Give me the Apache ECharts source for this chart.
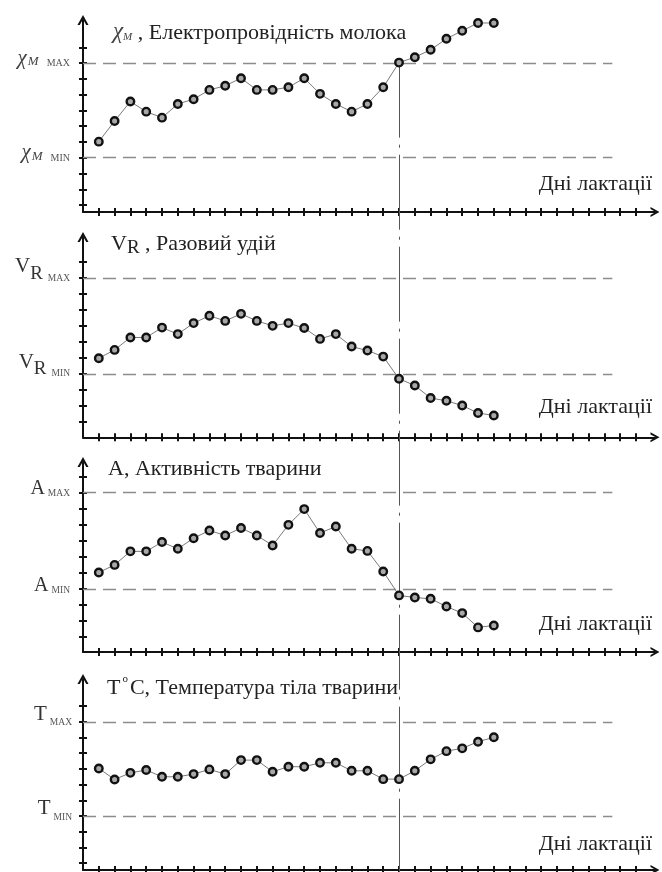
<!DOCTYPE html>
<html>
<head>
<meta charset="utf-8">
<script src="https://cdn.jsdelivr.net/npm/echarts@6/dist/echarts.min.js"></script>
<style>html,body{margin:0;padding:0;background:#fff}#c{width:662px;height:872px}</style>
</head>
<body>
<div id="c"></div>
<script>
// ---- data ----
const days = [1,2,3,4,5,6,7,8,9,10,11,12,13,14,15,16,17,18,19,20,21,22,23,24,25,26];
const dayTicks = [1,2,3,4,5,6,7,8,9,10,11,12,13,14,15,16,17,18,19,20,21,22,23,24,25,26,27,28,29,30,31,32,33,34,35];
const levelTicks = [0,1,2,3,4,5,6,7,8,9,10];
const levelMin = 3;
const levelMax = 9;
const changeDay = 20;
const limitEndDay = 33.5;

const conductivity = [4.02,5.33,6.56,5.92,5.54,6.41,6.71,7.30,7.56,8.04,7.30,7.30,7.47,8.04,7.05,6.41,5.92,6.41,7.47,9.03,9.37,9.84,10.54,11.05,11.54,11.54];
const milkYield   = [3.98,4.50,5.28,5.28,5.90,5.49,6.18,6.64,6.32,6.76,6.32,6.01,6.18,5.87,5.19,5.49,4.71,4.46,4.08,2.69,2.27,1.48,1.31,1.01,0.54,0.39];
const activity    = [4.02,4.49,5.33,5.33,5.91,5.49,6.15,6.63,6.32,6.78,6.32,5.70,6.98,7.96,6.47,6.88,5.49,5.36,4.08,2.59,2.46,2.38,1.90,1.49,0.60,0.72];
const temperature = [6.03,5.33,5.75,5.93,5.50,5.50,5.67,5.97,5.67,6.56,6.56,5.82,6.14,6.14,6.39,6.39,5.88,5.88,5.35,5.35,5.88,6.61,7.13,7.31,7.73,8.01];

const xAxisName = 'Дні лактації';
const titleTexts = [
  '{g|χ}{s|M}{t| , Електропровідність молока}',
  '{g|V}{s|R}{t| , Разовий удій}',
  '{t|A, Активність тварини}',
  '{t|T}{o|o}{t|C, Температура тіла тварини}'
];
const maxLabels = ['{g|χ}{s|M}{c|MAX}', '{g|V}{s|R}{c|MAX}', '{g|A}{c|MAX}', '{g|T}{c|MAX}'];
const minLabels = ['{g|χ}{s|M}{c|MIN}', '{g|V}{s|R}{c|MIN}', '{g|A}{c|MIN}', '{g|T}{c|MIN}'];
const seriesValues = [conductivity, milkYield, activity, temperature];

// ---- layout / style ----
const FONT = "'Liberation Serif', 'Times New Roman', serif";
const INK = '#111';
const ARROW = 'path://M5,0L10,9L7.9,9L5,3.8L2.1,9L0,9Z';
const panels = [
  {top: 20,  height: 192,   min: -0.44, max: 11.73, titleLeft: 113, titleTop: 18,  nameTop: 171, labelPad: 9},
  {top: 237, height: 200.3, min: -0.98, max: 11.58, titleLeft: 111, titleTop: 232, nameTop: 394, labelPad: 11},
  {top: 462, height: 190,   min: -0.93, max: 10.89, titleLeft: 108, titleTop: 454, nameTop: 611, labelPad: 7},
  {top: 679, height: 191,   min: -0.43, max: 11.72, titleLeft: 107, titleTop: 673, nameTop: 831, labelPad: 9}
];
const labelRich = [
  {
    g: {fontFamily: FONT, fontStyle: 'italic', fontSize: 21, lineHeight: 20, color: '#444', verticalAlign: 'bottom'},
    s: {fontFamily: FONT, fontStyle: 'italic', fontSize: 13, lineHeight: 13, color: '#444', verticalAlign: 'bottom', padding: [0, 0, 0, 1]},
    c: {fontFamily: FONT, fontSize: 10, lineHeight: 10, color: '#555', verticalAlign: 'bottom', padding: [0, 0, 0, 8]}
  },
  {
    g: {fontFamily: FONT, fontSize: 21, lineHeight: 21, color: '#333', verticalAlign: 'bottom', padding: [0, 0, 6, 0]},
    s: {fontFamily: FONT, fontSize: 19, lineHeight: 19, color: '#333', verticalAlign: 'bottom'},
    c: {fontFamily: FONT, fontSize: 9.5, lineHeight: 10, color: '#555', verticalAlign: 'bottom', padding: [0, 0, 0, 5]}
  },
  {
    g: {fontFamily: FONT, fontSize: 20, lineHeight: 20, color: '#333', verticalAlign: 'bottom'},
    c: {fontFamily: FONT, fontSize: 9.5, lineHeight: 10, color: '#555', verticalAlign: 'bottom', padding: [0, 0, 0, 3]}
  },
  {
    g: {fontFamily: FONT, fontSize: 21, lineHeight: 21, color: '#333', verticalAlign: 'bottom', padding: [0, 0, 3, 0]},
    c: {fontFamily: FONT, fontSize: 9.5, lineHeight: 10, color: '#555', verticalAlign: 'bottom', padding: [0, 0, 0, 3]}
  }
];
const labelMargin = [13, 13, 13, 11];
const titleRich = {
  g: {fontFamily: FONT, fontSize: 22, lineHeight: 26, color: '#222', verticalAlign: 'bottom'},
  s: {fontFamily: FONT, fontSize: 12, lineHeight: 12, color: '#222', verticalAlign: 'bottom'},
  t: {fontFamily: FONT, fontSize: 22, lineHeight: 26, color: '#222', verticalAlign: 'bottom'},
  o: {fontFamily: FONT, fontSize: 11, lineHeight: 11, color: '#222', verticalAlign: 'bottom', padding: [0, 2, 14, 2]}
};
const titleRich2 = {
  g: {fontFamily: FONT, fontSize: 22, lineHeight: 26, color: '#222', verticalAlign: 'bottom', padding: [0, 0, 2.5, 0]},
  s: {fontFamily: FONT, fontSize: 19, lineHeight: 19, color: '#222', verticalAlign: 'bottom'},
  t: {fontFamily: FONT, fontSize: 22, lineHeight: 26, color: '#222', verticalAlign: 'bottom', padding: [0, 0, 2.5, 0]}
};
const titleRich1 = {
  g: {fontFamily: FONT, fontStyle: 'italic', fontSize: 23, lineHeight: 26, color: '#444', verticalAlign: 'bottom', padding: [0, 0, 1, 0]},
  s: {fontFamily: FONT, fontStyle: 'italic', fontSize: 11, lineHeight: 11, color: '#444', verticalAlign: 'bottom', padding: [0, 0, 1, 0]},
  t: {fontFamily: FONT, fontSize: 22, lineHeight: 26, color: '#222', verticalAlign: 'bottom'}
};

const grids = [], xAxes = [], yAxes = [], series = [], titles = [];
const axisLineStyle = {color: INK, width: 2};
const tickStyle = {color: INK, width: 2};

panels.forEach((p, i) => {
  grids.push({left: 83, width: 572, top: p.top, height: p.height, containLabel: false});
  const xBase = {
    gridIndex: i, type: 'value', min: 0, max: 36.2, position: 'bottom',
    axisLabel: {show: false}, splitLine: {show: false}
  };
  xAxes.push(Object.assign({}, xBase, {
    axisLine: {show: true, onZero: false, lineStyle: axisLineStyle, symbol: ['none', ARROW], symbolSize: [13, 9]},
    axisTick: {show: true, inside: false, length: 4, lineStyle: tickStyle, customValues: dayTicks}
  }));
  xAxes.push(Object.assign({}, xBase, {
    axisLine: {show: false, onZero: false},
    axisTick: {show: true, inside: true, length: 4, lineStyle: tickStyle, customValues: dayTicks}
  }));
  const yBase = {
    gridIndex: i, type: 'value', min: p.min, max: p.max, position: 'left', splitLine: {show: false}
  };
  yAxes.push(Object.assign({}, yBase, {
    axisLine: {show: true, onZero: false, lineStyle: axisLineStyle, symbol: ['none', ARROW], symbolSize: [12, 10]},
    axisTick: {show: true, inside: false, length: 4, lineStyle: tickStyle, customValues: levelTicks},
    axisLabel: {
      show: true, customValues: [levelMin, levelMax], margin: labelMargin[i],
      padding: [0, 0, p.labelPad, 0],
      formatter: v => (v === levelMax ? maxLabels[i] : minLabels[i]),
      rich: labelRich[i]
    }
  }));
  yAxes.push(Object.assign({}, yBase, {
    axisLine: {show: false, onZero: false},
    axisTick: {show: true, inside: true, length: 4, lineStyle: tickStyle, customValues: levelTicks},
    axisLabel: {show: false}
  }));
  series.push({
    type: 'line', xAxisIndex: 2 * i, yAxisIndex: 2 * i,
    data: days.map((d, k) => [d, seriesValues[i][k]]),
    symbol: 'circle', symbolSize: 7.5,
    lineStyle: {color: '#7a7a7a', width: 1},
    itemStyle: {color: '#a8a8a8', borderColor: INK, borderWidth: 2.4},
    z: 5,
    markLine: {
      silent: true, symbol: 'none', label: {show: false},
      lineStyle: {color: '#8c8c8c', width: 1.4, type: [13, 7]},
      data: [
        [{coord: [0, levelMax]}, {coord: [limitEndDay, levelMax]}],
        [{coord: [0, levelMin]}, {coord: [limitEndDay, levelMin]}]
      ]
    }
  });
  titles.push({
    text: titleTexts[i], left: p.titleLeft, top: p.titleTop, padding: 0,
    textStyle: {fontFamily: FONT, fontSize: 22, fontWeight: 'normal', color: '#222',
      rich: i === 0 ? titleRich1 : (i === 1 ? titleRich2 : titleRich)}
  });
  titles.push({
    text: xAxisName, right: 10, top: p.nameTop, padding: 0,
    textStyle: {fontFamily: FONT, fontSize: 22, lineHeight: 26, fontWeight: 'normal', color: '#222'}
  });
});

// overlay grid for the vertical dash-dot marker spanning all panels
grids.push({left: 83, width: 572, top: 62.7, bottom: 0});
xAxes.push({gridIndex: 4, type: 'value', min: 0, max: 36.2, show: false});
yAxes.push({gridIndex: 4, type: 'value', min: 0, max: 1, show: false});
series.push({
  type: 'line', xAxisIndex: 8, yAxisIndex: 8,
  data: [[changeDay, 1]], symbol: 'none', lineStyle: {opacity: 0}, z: 1,
  markLine: {
    silent: true, symbol: 'none', label: {show: false},
    lineStyle: {color: '#555', width: 1, type: [75, 7, 3, 7]},
    data: [[{coord: [changeDay, 1]}, {coord: [changeDay, 0]}]]
  }
});

const chart = echarts.init(document.getElementById('c'), null, {renderer: 'canvas'});
chart.setOption({
  animation: false,
  backgroundColor: '#fff',
  title: titles,
  grid: grids,
  xAxis: xAxes,
  yAxis: yAxes,
  series: series
});
</script>
</body>
</html>
